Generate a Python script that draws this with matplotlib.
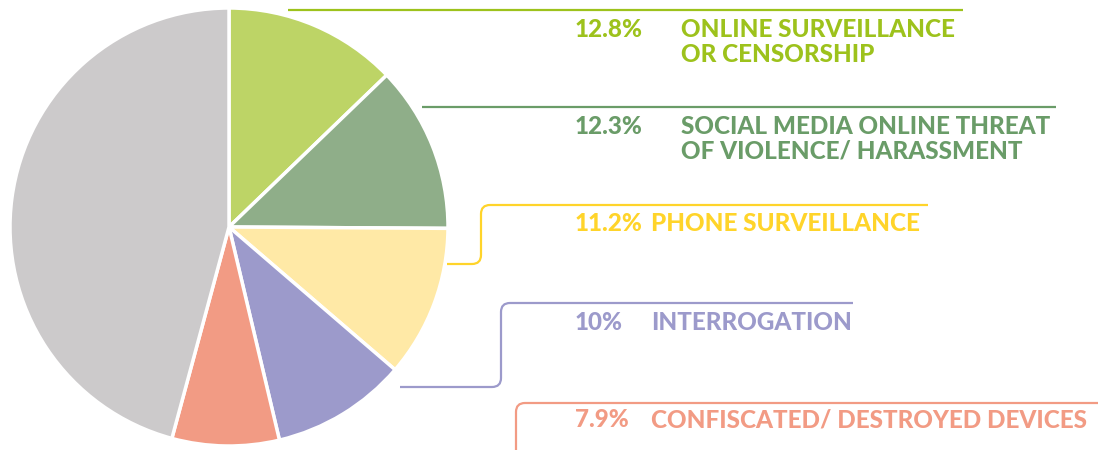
import matplotlib.pyplot as plt
from matplotlib.path import Path
from matplotlib.patches import PathPatch

# data
shares = [12.8, 12.3, 11.2, 10.0, 7.9, 45.8]
pct_labels = ['12.8%', '12.3%', '11.2%', '10%', '7.9%']
names = [['ONLINE SURVEILLANCE', 'OR CENSORSHIP'],
         ['SOCIAL MEDIA ONLINE THREAT', 'OF VIOLENCE/ HARASSMENT'],
         ['PHONE SURVEILLANCE'],
         ['INTERROGATION'],
         ['CONFISCATED/ DESTROYED DEVICES']]
slice_colors = ['#bdd466', '#8fae89', '#ffe9a6', '#9c9acb', '#f29b84', '#cccacb']
text_colors = ['#9dc21c', '#6a9c68', '#ffd42a', '#9c9acb', '#f29b84']

W, H = 1104, 450

fig = plt.figure(figsize=(W / 100, H / 100), dpi=100)
ax = fig.add_axes([0, 0, 1, 1])

ax.pie(shares, colors=slice_colors, startangle=90, counterclock=False,
       center=(229, H - 227), radius=219,
       wedgeprops=dict(edgecolor='white', linewidth=2.5))


def leader(pts, color, r=9):
    # polyline with rounded corners, pts in pixel coords (y down)
    pts = [(x, H - y) for x, y in pts]
    verts = [pts[0]]
    codes = [Path.MOVETO]
    for i in range(1, len(pts) - 1):
        (x0, y0), (x1, y1), (x2, y2) = pts[i - 1], pts[i], pts[i + 1]
        d1 = ((x1 - x0) ** 2 + (y1 - y0) ** 2) ** 0.5
        d2 = ((x2 - x1) ** 2 + (y2 - y1) ** 2) ** 0.5
        a = (x1 - (x1 - x0) * r / d1, y1 - (y1 - y0) * r / d1)
        b = (x1 + (x2 - x1) * r / d2, y1 + (y2 - y1) * r / d2)
        verts += [a, (x1, y1), b]
        codes += [Path.LINETO, Path.CURVE3, Path.CURVE3]
    verts.append(pts[-1])
    codes.append(Path.LINETO)
    ax.add_patch(PathPatch(Path(verts, codes), fill=False, edgecolor=color,
                           linewidth=1.6, capstyle='butt'))


leader([(288, 10), (963, 10)], text_colors[0])
leader([(422, 107), (1056, 107)], text_colors[1])
leader([(447, 264), (481, 264), (481, 205), (928, 205)], text_colors[2])
leader([(400, 387), (501, 387), (501, 303), (853, 303)], text_colors[3])
leader([(516, 452), (516, 403), (1098, 403)], text_colors[4])

baselines = [37, 134, 231, 330, 427]
name_x = [681, 681, 651, 651, 651]
font = dict(family='Lato', weight='black', fontsize=17.5, va='baseline', ha='left')
for i in range(5):
    ax.text(575, H - baselines[i], pct_labels[i], color=text_colors[i], **font)
    for j, line in enumerate(names[i]):
        ax.text(name_x[i], H - baselines[i] - 24.5 * j, line, color=text_colors[i], **font)

ax.set_xlim(0, W)
ax.set_ylim(0, H)
ax.set_aspect('auto')
ax.axis('off')

fig.savefig('out.png', dpi=100)
